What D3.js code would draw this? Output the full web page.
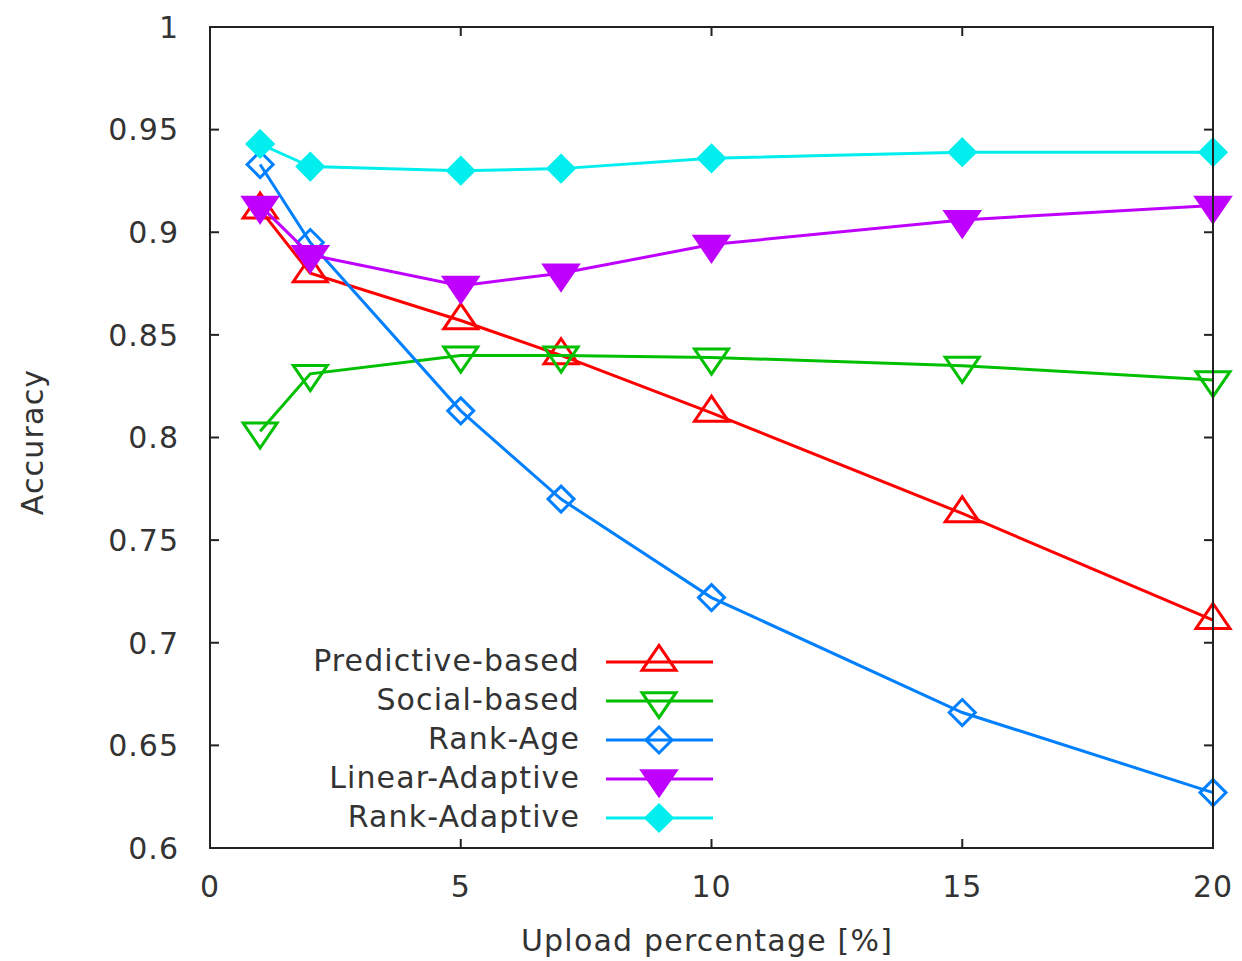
<!DOCTYPE html>
<html>
<head>
<meta charset="utf-8">
<script src="https://cdn.jsdelivr.net/npm/d3@7"></script>
<style>
  body { margin: 0; background: #fff; }
  svg { display: block; }
</style>
</head>
<body>
<script>
// data
const uploadPct = [1, 2, 5, 7, 10, 15, 20];
const predictiveBased = [0.911, 0.880, 0.857, 0.840, 0.812, 0.763, 0.711];
const socialBased = [0.803, 0.831, 0.840, 0.840, 0.839, 0.835, 0.828];
const rankAge = [0.933, 0.895, 0.813, 0.770, 0.722, 0.666, 0.627];
const linearAdaptive = [0.913, 0.889, 0.874, 0.880, 0.894, 0.906, 0.913];
const rankAdaptive = [0.943, 0.932, 0.930, 0.931, 0.936, 0.939, 0.939];

const xTicks = [0, 5, 10, 15, 20];
const yTicks = [0.6, 0.65, 0.7, 0.75, 0.8, 0.85, 0.9, 0.95, 1];

const series = [
  { name: "Predictive-based", values: predictiveBased, color: "#ff0000", shape: "up", filled: false },
  { name: "Social-based", values: socialBased, color: "#00c000", shape: "down", filled: false },
  { name: "Rank-Age", values: rankAge, color: "#0080ff", shape: "diamond", filled: false },
  { name: "Linear-Adaptive", values: linearAdaptive, color: "#c000ff", shape: "down", filled: true },
  { name: "Rank-Adaptive", values: rankAdaptive, color: "#00eeee", shape: "diamond", filled: true }
];

const W = 1242, H = 961;
const plotLeft = 210, plotRight = 1213, plotTop = 27, plotBottom = 848;
const textColor = "#333";
const lw = 3;

const x = d3.scaleLinear().domain([0, 20]).range([plotLeft, plotRight]);
const y = d3.scaleLinear().domain([0.6, 1]).range([plotBottom, plotTop]);

// marker shapes (triangles centred on centroid, like gnuplot)
function markerPath(shape) {
  const hw = 17, h = 25, d = 13;
  if (shape === "up") return `M0,${-2 * h / 3}L${hw},${h / 3}L${-hw},${h / 3}Z`;
  if (shape === "down") return `M0,${2 * h / 3}L${hw},${-h / 3}L${-hw},${-h / 3}Z`;
  return `M0,${-d}L${d},0L0,${d}L${-d},0Z`;
}

const svg = d3.select("body").append("svg")
  .attr("width", W)
  .attr("height", H)
  .attr("font-family", "DejaVu Sans, sans-serif")
  .attr("font-size", 30);

// ticks (inside, mirrored)
const tickLen = 9;
const ticks = svg.append("g").attr("stroke", "#222").attr("stroke-width", 2);
yTicks.forEach((t) => {
  ticks.append("line").attr("x1", plotLeft).attr("x2", plotLeft + tickLen).attr("y1", y(t)).attr("y2", y(t));
  ticks.append("line").attr("x1", plotRight).attr("x2", plotRight - tickLen).attr("y1", y(t)).attr("y2", y(t));
});
xTicks.forEach((t) => {
  ticks.append("line").attr("x1", x(t)).attr("x2", x(t)).attr("y1", plotBottom).attr("y2", plotBottom - tickLen);
  ticks.append("line").attr("x1", x(t)).attr("x2", x(t)).attr("y1", plotTop).attr("y2", plotTop + tickLen);
});

// tick labels
svg.append("g")
  .selectAll("text")
  .data(yTicks)
  .join("text")
  .attr("x", 179)
  .attr("y", (d) => y(d))
  .attr("dy", "0.36em")
  .attr("text-anchor", "end")
  .attr("fill", textColor)
  .attr("letter-spacing", 1)
  .text((d) => d3.format("~g")(d));

svg.append("g")
  .selectAll("text")
  .data(xTicks)
  .join("text")
  .attr("x", (d) => x(d))
  .attr("y", 897)
  .attr("text-anchor", "middle")
  .attr("fill", textColor)
  .attr("letter-spacing", 1)
  .text((d) => d);

// axis titles
svg.append("text")
  .attr("transform", "translate(43,442) rotate(-90)")
  .attr("text-anchor", "middle")
  .attr("fill", textColor)
  .attr("letter-spacing", 1.2)
  .text("Accuracy");

svg.append("text")
  .attr("x", 707)
  .attr("y", 951)
  .attr("text-anchor", "middle")
  .attr("fill", textColor)
  .attr("letter-spacing", 1.2)
  .text("Upload percentage [%]");

// series
const line = d3.line().x((d) => x(d[0])).y((d) => y(d[1]));

series.forEach((s) => {
  const pts = uploadPct.map((u, i) => [u, s.values[i]]);
  const g = svg.append("g");
  g.append("path")
    .datum(pts)
    .attr("fill", "none")
    .attr("stroke", s.color)
    .attr("stroke-width", lw)
    .attr("d", line);
  g.selectAll("path.pt")
    .data(pts)
    .join("path")
    .attr("class", "pt")
    .attr("transform", (d) => `translate(${x(d[0])},${y(d[1])})`)
    .attr("d", markerPath(s.shape))
    .attr("fill", s.filled ? s.color : "none")
    .attr("stroke", s.color)
    .attr("stroke-width", lw)
    .attr("stroke-linejoin", "miter");
});

// legend
const legend = svg.append("g");
series.forEach((s, i) => {
  const cy = 662 + i * 39;
  legend.append("text")
    .attr("x", 580)
    .attr("y", cy)
    .attr("dy", "0.3em")
    .attr("text-anchor", "end")
    .attr("fill", textColor)
    .attr("letter-spacing", 1.1)
    .text(s.name);
  legend.append("line")
    .attr("x1", 606).attr("x2", 713)
    .attr("y1", cy).attr("y2", cy)
    .attr("stroke", s.color)
    .attr("stroke-width", lw);
  legend.append("path")
    .attr("transform", `translate(659,${cy})`)
    .attr("d", markerPath(s.shape))
    .attr("fill", s.filled ? s.color : "none")
    .attr("stroke", s.color)
    .attr("stroke-width", lw);
});

// frame on top
svg.append("rect")
  .attr("x", plotLeft).attr("y", plotTop)
  .attr("width", plotRight - plotLeft).attr("height", plotBottom - plotTop)
  .attr("fill", "none")
  .attr("stroke", "#222")
  .attr("stroke-width", 2);
</script>
</body>
</html>
